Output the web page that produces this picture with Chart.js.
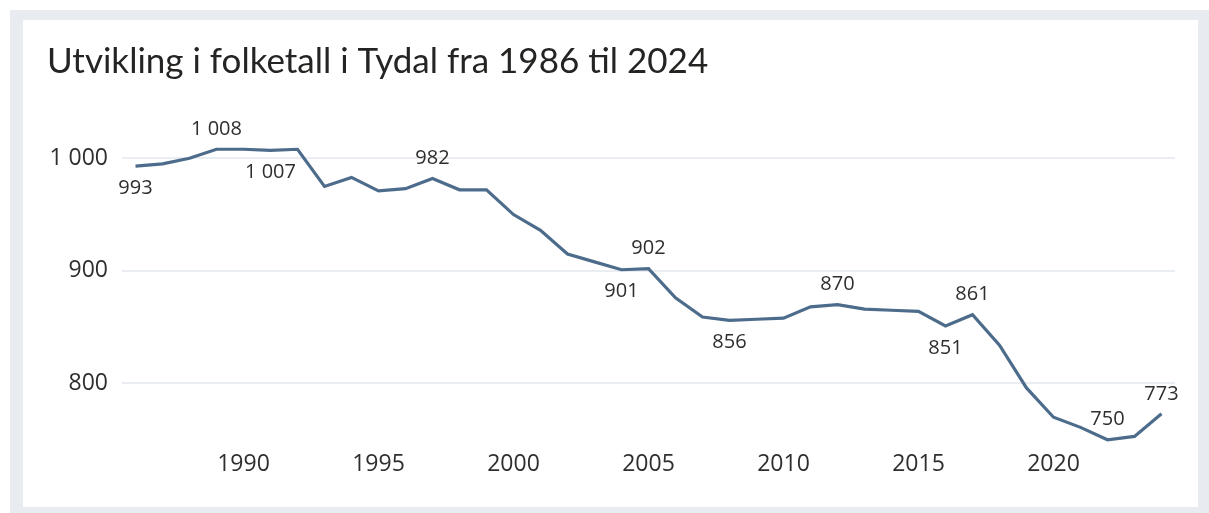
<!DOCTYPE html>
<html>
<head>
<meta charset="utf-8">
<script src="https://cdn.jsdelivr.net/npm/chart.js@4/dist/chart.umd.min.js"></script>
<style>
  html, body { margin: 0; padding: 0; background: #ffffff; }
  body { width: 1209px; height: 513px; position: relative; overflow: hidden; }
  #frame { position: absolute; left: 10px; top: 10px; width: 1199px; height: 503px; background: #e8ebef; }
  #panel { position: absolute; left: 23px; top: 20px; width: 1175px; height: 487px; background: #ffffff; }
  #wrap { position: absolute; left: 0; top: 0; width: 1209px; height: 513px; }
</style>
</head>
<body>
<div id="frame"></div>
<div id="panel"></div>
<div id="wrap"><canvas id="c" width="1209" height="513"></canvas></div>
<script>
const titleText = 'Utvikling i folketall i Tydal fra 1986 til 2024';
const years = [1986, 1987, 1988, 1989, 1990, 1991, 1992, 1993, 1994, 1995,
               1996, 1997, 1998, 1999, 2000, 2001, 2002, 2003, 2004, 2005,
               2006, 2007, 2008, 2009, 2010, 2011, 2012, 2013, 2014, 2015,
               2016, 2017, 2018, 2019, 2020, 2021, 2022, 2023, 2024];
const population = [993, 995, 1000, 1008, 1008, 1007, 1008, 975, 983, 971,
                    973, 982, 972, 972, 950, 936, 915, 908, 901, 902,
                    876, 859, 856, 857, 858, 868, 870, 866, 865, 864,
                    851, 861, 834, 796, 770, 761, 750, 753, 773];
const yTicks = [800, 900, 1000];
const labelYearsAbove = [1989, 1997, 2005, 2012, 2017, 2022, 2024];
const labelYearsBelow = [1986, 1991, 2004, 2008, 2016];

function fmtNo(v) {
  return String(v).replace(/\B(?=(\d{3})+(?!\d))/g, '\u00a0');
}

const dataLabelPlugin = {
  id: 'dataLabels',
  afterDatasetsDraw(chart) {
    const meta = chart.getDatasetMeta(0);
    const ctx = chart.ctx;
    ctx.save();
    ctx.font = '20px "Open Sans"';
    ctx.fillStyle = '#2e2e2e';
    ctx.textAlign = 'center';
    ctx.textBaseline = 'middle';
    const draw = (yr, dy) => {
      const i = years.indexOf(yr);
      if (i < 0) return;
      const p = meta.data[i];
      ctx.fillText(fmtNo(population[i]), p.x, p.y + dy);
    };
    labelYearsAbove.forEach(y => draw(y, -20));
    labelYearsBelow.forEach(y => draw(y, 22));
    ctx.restore();
  }
};

new Chart(document.getElementById('c'), {
  type: 'line',
  data: {
    labels: years.map(String),
    datasets: [{
      data: population,
      borderColor: '#4d6c8b',
      borderWidth: 3.2,
      pointRadius: 0,
      tension: 0,
      fill: false
    }]
  },
  options: {
    responsive: false,
    animation: false,
    devicePixelRatio: 1,
    layout: { padding: { left: 47, right: 34, top: 41, bottom: 22 } },
    plugins: {
      legend: { display: false },
      tooltip: { enabled: false },
      title: {
        display: true,
        text: titleText,
        align: 'start',
        color: '#252423',
        font: { family: 'Lato', size: 35, weight: 'normal' },
        padding: { top: 0, bottom: 41.5 }
      }
    },
    scales: {
      x: {
        type: 'category',
        offset: true,
        grid: { display: false, drawTicks: false },
        border: { display: false },
        ticks: {
          autoSkip: false,
          maxRotation: 0,
          padding: 0,
          color: '#2e2e2e',
          font: { family: 'Open Sans', size: 23 },
          callback: (v, i) => (years[i] % 5 === 0 ? String(years[i]) : '')
        },
        afterFit: (s) => { s.height = 40; }
      },
      y: {
        min: 740,
        max: 1030,
        grid: { color: '#eaedf1', lineWidth: 2, drawTicks: false },
        border: { display: false },
        ticks: {
          padding: 14,
          color: '#2e2e2e',
          font: { family: 'Open Sans', size: 23 },
          callback: (v) => fmtNo(v)
        },
        afterBuildTicks: (s) => { s.ticks = yTicks.map(v => ({ value: v })); },
        afterFit: (s) => { s.width = 75; }
      }
    }
  },
  plugins: [dataLabelPlugin]
});
</script>
</body>
</html>
